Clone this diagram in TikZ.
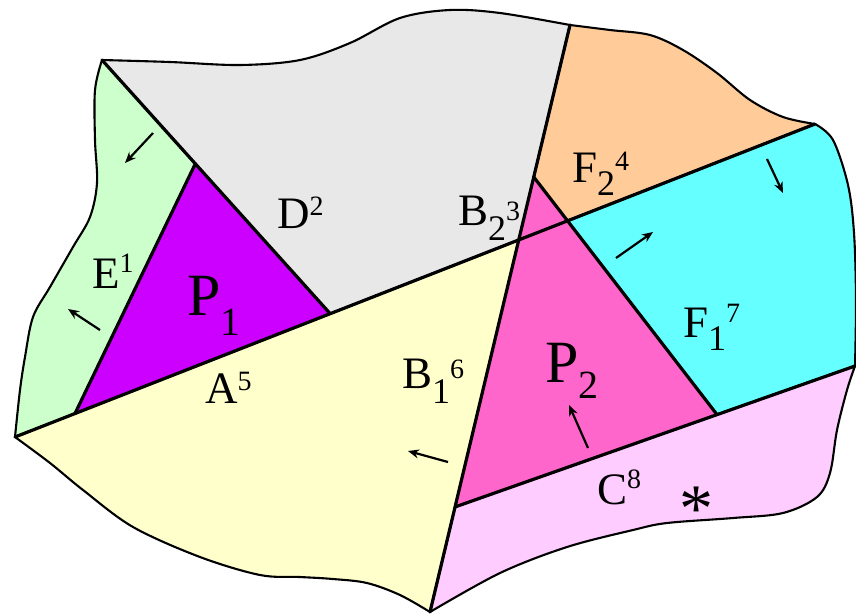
\documentclass[tikz,border=0pt]{standalone}
\usepackage{fontspec}
\setmainfont{Liberation Serif}
\usetikzlibrary{arrows.meta,calc}
\definecolor{cE}{HTML}{CCFFCC}
\definecolor{cD}{HTML}{E8E8E8}
\definecolor{cP1}{HTML}{CC00FF}
\definecolor{cA}{HTML}{FFFFCC}
\definecolor{cF2}{HTML}{FFCC99}
\definecolor{cF1}{HTML}{66FFFF}
\definecolor{cP2}{HTML}{FF66CC}
\definecolor{cC}{HTML}{FFCCFF}
\newcommand\lsup[2][14pt]{\raisebox{#1}{\fontsize{28}{28}\selectfont #2}}
\newcommand\lsub[2][13pt]{\raisebox{-#1}{\fontsize{36}{36}\selectfont #2}}
\newcommand\psub[2][20pt]{\raisebox{-#1}{\fontsize{40}{40}\selectfont #2}}
\begin{document}
\begin{tikzpicture}[x=1pt,y=-1pt,
  region/.style={draw=black,line width=2.1pt,line join=round},
  cut/.style={draw=black,line width=3.2pt,line cap=round},
  arr/.style={line width=2.2pt,-{Stealth[length=11pt,width=9pt]}},
  lbl/.style={anchor=base west,inner sep=0pt,font=\fontsize{45}{45}\selectfont},
  big/.style={anchor=base west,inner sep=0pt,font=\fontsize{60}{60}\selectfont}]
\useasboundingbox (0,0) rectangle (856,614);
% main points
\coordinate (L) at (15,437);
\coordinate (TL) at (102,60);
\coordinate (T) at (570,25);
\coordinate (R1) at (815,124);
\coordinate (RC) at (855,366);
\coordinate (Bt) at (430,612);
\coordinate (K) at ($(L)!0.394!(R1)$);
\coordinate (E1) at ($(L)!0.075!(R1)$);
\coordinate (Q1) at ($(TL)!0.409!(K)$);
\coordinate (Pt) at ($(T)!0.259!(Bt)$);
\coordinate (Pb) at ($(T)!0.821!(Bt)$);
\coordinate (Pr) at ($(Pb)!0.655!(RC)$);
\coordinate (X1) at (intersection of L--R1 and Pt--Pr);
\coordinate (X2) at (intersection of L--R1 and T--Bt);
% regions
\path[region,fill=cE] (L) -- plot[smooth,tension=0.55] coordinates {(L) (20,390) (25,357) (33,317) (50,287) (73,247) (90,217) (97,183) (95,140) (95,90) (TL)} -- (Q1) -- (E1) -- cycle;
\path[region,fill=cD] (TL) -- plot[smooth,tension=0.55] coordinates {(TL) (170,62) (240,65) (300,60) (350,43) (400,18) (450,10) (500,13) (T)} -- (X2) -- (K) -- cycle;
\path[region,fill=cF2] (T) -- plot[smooth,tension=0.55] coordinates {(T) (610,30) (650,35) (683,50) (717,73) (750,100) (783,117) (R1)} -- (X1) -- (Pt) -- cycle;
\path[region,fill=cF1] (R1) -- plot[smooth,tension=0.55] coordinates {(R1) (833,140) (848,185) (854,233) (856,300) (RC)} -- (Pr) -- (X1) -- cycle;
\path[region,fill=cC] (Pb) -- plot[smooth,tension=0.55] coordinates {(RC) (847,390) (837,430) (830,473) (817,497) (783,513) (733,518) (667,523) (633,530) (567,547) (500,573) (Bt)} -- cycle;
\path[region,fill=cA] (L) -- (X2) -- (Bt) -- plot[smooth,tension=0.55] coordinates {(Bt) (400,595) (367,583) (333,579) (300,577) (260,575) (200,557) (133,527) (83,490) (50,463) (L)} -- cycle;
\fill[cP1] (Q1) -- (K) -- (E1) -- cycle;
\fill[cP2] (Pt) -- (Pr) -- (Pb) -- cycle;
% dividing lines
\draw[cut] (L) -- (R1);
\draw[cut] (TL) -- (K);
\draw[cut] (Q1) -- (E1);
\draw[cut] (T) -- (Bt);
\draw[cut] (Pt) -- (Pr);
\draw[cut] (Pb) -- (RC);
% arrows
\draw[arr] (153,133) -- (125,163);
\draw[arr] (100,330) -- (68,309);
\draw[arr] (448,462) -- (408,451);
\draw[arr] (588,448) -- (569,405);
\draw[arr] (616,258) -- (653,232);
\draw[arr] (767,159) -- (783,193);
% labels
\node[lbl] (lE) at (92,288) {E\lsup[16pt]{1}};
\node[lbl] (lD) at (277,228) {D\lsup[13pt]{2}};
\node[big] (lP1) at (187,315) {P\psub[20pt]{1}};
\node[lbl] (lA) at (205,403) {A\lsup[13pt]{5}};
\node[lbl] (lB1) at (402,388) {B\lsub[15pt]{1}\lsup[10pt]{6}};
\node[lbl] (lB2) at (458,225) {B\lsub[15pt]{2}\lsup[5pt]{3}};
\node[lbl] (lF2) at (572,182) {F\lsub[13pt]{2}\lsup[12pt]{4}};
\node[lbl] (lF1) at (683,337) {F\lsub[13pt]{1}\lsup[15pt]{7}};
\node[big] (lP2) at (545,382) {P\psub[16pt]{2}};
\node[lbl] (lC) at (597,504) {C\lsup[16pt]{8}};
\node[inner sep=0pt] (ast) at (696,509) {\fontsize{68}{68}\selectfont *};
\end{tikzpicture}
\end{document}
